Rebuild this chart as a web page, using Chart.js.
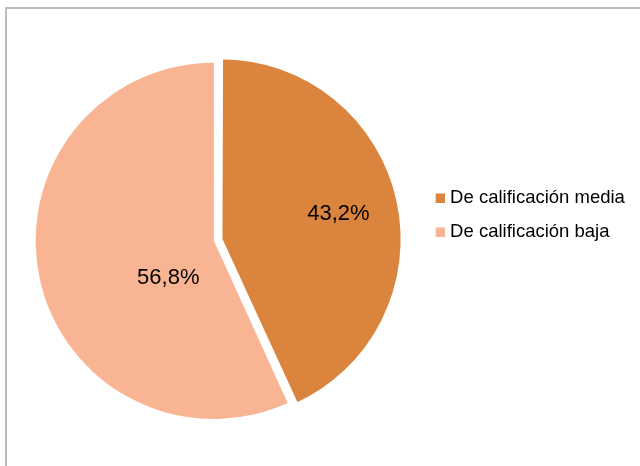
<!DOCTYPE html>
<html>
<head>
<meta charset="utf-8">
<script src="https://cdn.jsdelivr.net/npm/chart.js@4/dist/chart.umd.min.js"></script>
<style>
  html, body { margin: 0; padding: 0; background: #fff; overflow: hidden; }
  #frame { position: absolute; left: 5px; top: 7px; width: 700px; height: 600px; border: 2px solid #bdbdbd; box-sizing: border-box; }
  #chart { position: absolute; left: 0; top: 0; }
</style>
</head>
<body>
<div id="frame"></div>
<canvas id="chart" width="640" height="466"></canvas>
<script>
const categories = ["De calificación media", "De calificación baja"];
const shares = [43.2, 56.8];
const sliceColors = ["#DB843D", "#F9B593"];

// where each percentage sits in its slice: share of the sweep, share of the radius
const labelSweep = [0.5, 0.369];
const labelReach = [0.677, 0.329];

const fontFamily = "'Liberation Sans', Arial, sans-serif";
const formatShare = v => v.toFixed(1).replace(".", ",") + "%";

const sliceLabels = {
  id: "sliceLabels",
  afterDatasetsDraw(chart) {
    const ctx = chart.ctx;
    const meta = chart.getDatasetMeta(0);
    ctx.save();
    ctx.font = "22px " + fontFamily;
    ctx.fillStyle = "#000";
    ctx.textAlign = "center";
    ctx.textBaseline = "middle";
    meta.data.forEach((arc, i) => {
      const { x, y, startAngle, endAngle, outerRadius } =
        arc.getProps(["x", "y", "startAngle", "endAngle", "outerRadius"], true);
      // follow the exploded slice (arc translates by offset / 4)
      const mid = (startAngle + endAngle) / 2;
      const shift = (arc.options.offset || 0) / 4;
      const cx = x + Math.cos(mid) * shift;
      const cy = y + Math.sin(mid) * shift;
      const a = startAngle + (endAngle - startAngle) * labelSweep[i];
      const r = outerRadius * labelReach[i];
      ctx.fillText(formatShare(shares[i]), cx + Math.cos(a) * r, cy + Math.sin(a) * r);
    });
    ctx.restore();
  }
};

new Chart(document.getElementById("chart"), {
  type: "pie",
  data: {
    labels: categories,
    datasets: [{
      data: shares,
      backgroundColor: sliceColors,
      borderColor: "#fff",
      borderWidth: [4, 0],
      offset: [27, 0],
      hoverOffset: 0,
      radius: 178.2,
      clip: false
    }]
  },
  options: {
    responsive: false,
    animation: false,
    events: [],
    layout: { padding: { top: 173.5, bottom: 157.8, left: 3.35, right: 10.65 } },
    plugins: {
      tooltip: { enabled: false },
      legend: {
        position: "right",
        align: "start",
        maxWidth: 205,
        labels: {
          font: { family: fontFamily, size: 18.5 },
          color: "#000",
          padding: 15.5,
          usePointStyle: true,
          pointStyle: "rect",
          boxWidth: 1,
          boxHeight: 9.3,
          generateLabels(chart) {
            return Chart.overrides.pie.plugins.legend.labels.generateLabels(chart)
              .map(item => ({ ...item, lineWidth: 0, strokeStyle: item.fillStyle }));
          }
        }
      }
    }
  },
  plugins: [sliceLabels]
});
</script>
</body>
</html>
